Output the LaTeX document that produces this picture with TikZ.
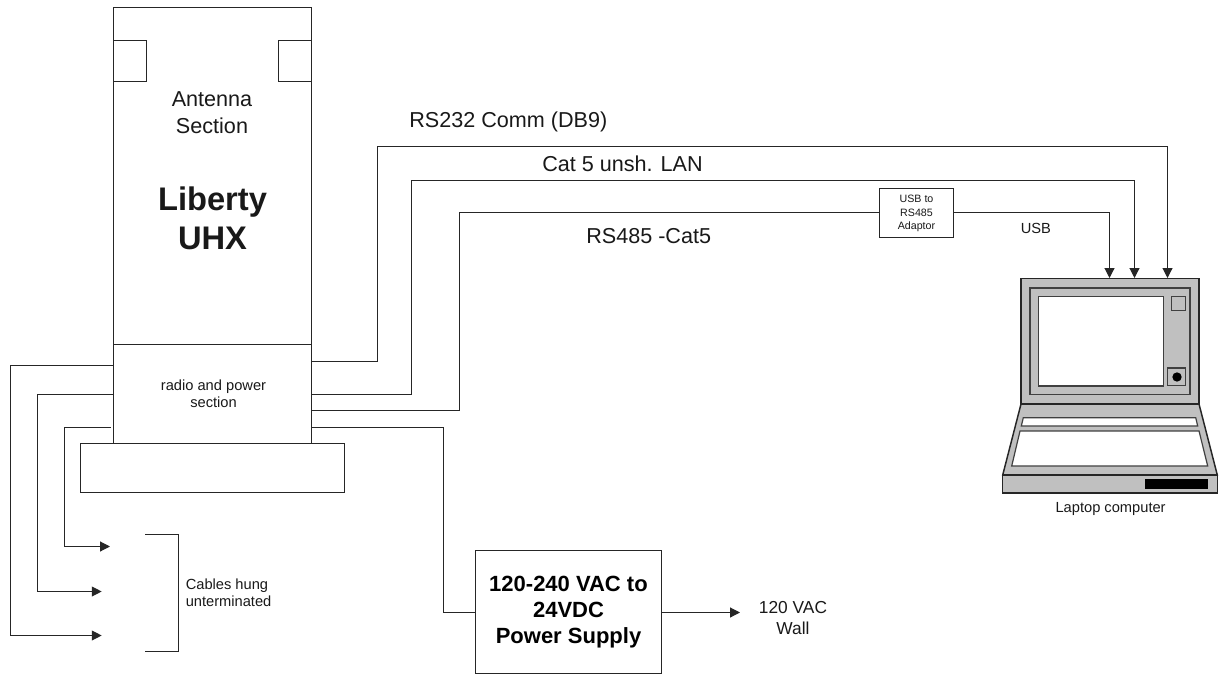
\documentclass[tikz,border=0pt]{standalone}
\usepackage{fontspec}
\setmainfont{Liberation Sans}
\usetikzlibrary{arrows.meta}
\newcommand{\fs}[2]{\fontsize{#1}{#2}\selectfont}
\definecolor{lapgray}{RGB}{192,192,192}
\tikzset{
  box/.style={draw=black!85,line width=0.85pt,fill=white,inner sep=0pt,align=center},
  wire/.style={draw=black!85,line width=0.85pt},
  arrowwire/.style={wire,-{Triangle[length=7.4pt,width=7.4pt]}},
  lbl/.style={inner sep=0pt,align=center,text=black!90},
  bigl/.style={lbl,font=\fs{16.2pt}{19.8pt}},
  medl/.style={lbl,font=\fs{11pt}{12.75pt}},
  smll/.style={lbl,font=\fs{8pt}{10.2pt}},
  lap/.style={draw=black!85,line width=1.1pt,fill=lapgray},
  lapg/.style={draw=black!75,line width=0.9pt,fill=lapgray,inner sep=0pt},
  lapw/.style={draw=black!75,line width=0.9pt,fill=white}
}
\begin{document}
\begin{tikzpicture}[x=0.75pt,y=-0.75pt]
\useasboundingbox (0,0) rectangle (1220,674);
% unit body
\node[box,minimum width=148.5pt,minimum height=252.75pt] (ant) at (212.5,176) {};
\node[box,minimum width=24.75pt,minimum height=30.75pt] (earl) at (130,61) {};
\node[box,minimum width=24.75pt,minimum height=30.75pt] (earr) at (295,61) {};
\node[box,minimum width=148.5pt,minimum height=74.25pt] (radio) at (212.5,394) {};
\node[box,minimum width=198pt,minimum height=36.75pt] (base) at (212.5,468) {};
\node[bigl] (anttxt) at (212,112.5) {Antenna\\Section};
\node[lbl,font=\fs{24.5pt}{29.5pt}\bfseries] (libtxt) at (212.5,218) {Liberty\\UHX};
\node[medl] (radtxt) at (213.5,393.5) {radio and power\\section};
% laptop
\draw[lap] (1021,404) -- (1199,404) -- (1217.3,475) -- (1002.7,475) -- cycle;
\node[lap,minimum width=133.5pt,minimum height=94pt,inner sep=0pt] (lid) at (1110,341.3) {};
\node[lapg,minimum width=120pt,minimum height=80pt] (bezel) at (1110,341.3) {};
\node[lapw,minimum width=93.7pt,minimum height=67pt,inner sep=0pt] (screen) at (1100.8,341.3) {};
\node[lapg,minimum width=10.5pt,minimum height=10.2pt] (btn) at (1178.7,303.5) {};
\node[lapg,minimum width=13.5pt,minimum height=13.3pt] (knob) at (1176.7,376.8) {};
\fill[black] (1177,377) circle (3.5pt);
\draw[lapw] (1023.3,417.7) -- (1195.7,417.7) -- (1197.7,426) -- (1021.3,426) -- cycle;
\draw[lapw] (1020,431) -- (1199,431) -- (1207.7,466) -- (1011.7,466) -- cycle;
\node[lap,minimum width=161pt,minimum height=13.5pt,inner sep=0pt] (front) at (1110,484) {};
\fill[black] (1145,479.3) rectangle (1208.3,489);
\node[medl] (laptxt) at (1110.6,508.5) {Laptop computer};
% adaptor, supply
\node[box,minimum width=55.5pt,minimum height=36.75pt] (adapt) at (916.5,213) {};
\node[smll] (adapttxt) at (916.5,213.5) {USB to\\RS485\\Adaptor};
\node[box,font=\fs{16.5pt}{19.5pt}\bfseries,minimum width=139.5pt,minimum height=92.25pt] (psu) at (568.5,612) {120-240 VAC to\\24VDC\\Power Supply};
% right wires
\draw[arrowwire] (radio.east |- 0,361.5) -| (377.5,146.5) -| (1167.5,278) coordinate (t1);
\draw[arrowwire] (radio.east |- 0,394.5) -| (411.5,180.5) -| (1134.5,278) coordinate (t2);
\draw[wire] (radio.east |- 0,410.5) -| (459.5,212.5) -- (adapt.west |- 0,212.5);
\draw[arrowwire] (adapt.east |- 0,212.5) -| (1109.5,278) coordinate (t3);
\draw[wire] (radio.east |- 0,427.5) -| (443.5,612.5) -- (psu.west |- 0,612.5);
\coordinate (wallend) at (740,612.5);
\draw[arrowwire] (psu.east |- wallend) -- (wallend);
% left wires
\coordinate (e1) at (101.7,635.5);
\coordinate (e2) at (101.7,591.5);
\coordinate (e3) at (110,546.5);
\draw[arrowwire] (radio.west |- 0,365.5) -| (10.5,635.5) -- (e1);
\draw[arrowwire] (radio.west |- 0,394.5) -| (37.5,591.5) -- (e2);
\draw[arrowwire] (110.7,427.5) -| (64.5,546.5) -- (e3);
% bracket
\coordinate (bra) at (145,534.5);
\coordinate (brb) at (145,651.5);
\draw[wire] (bra) -- (178.5,534.5) -- (178.5,651.5) -- (brb);
% labels
\node[medl,align=left,anchor=west] (cabtxt) at (185.5,593) {Cables hung\\unterminated};
\node[lbl,font=\fs{16.2pt}{20pt},anchor=west] (rs232) at (409,122) {RS232 Comm (DB9)};
\node[lbl,font=\fs{16.2pt}{20pt},anchor=west] (cat5) at (542,163.5) {Cat 5 unsh. LAN};
\node[lbl,font=\fs{16.2pt}{20pt},anchor=west] (rs485) at (586,236) {RS485 -Cat5};
\node[medl,anchor=west] (usb) at (1020.5,228.5) {USB};
\node[lbl,font=\fs{13pt}{15.75pt}] (wall) at (793,618.5) {120 VAC\\Wall};
\end{tikzpicture}
\end{document}
